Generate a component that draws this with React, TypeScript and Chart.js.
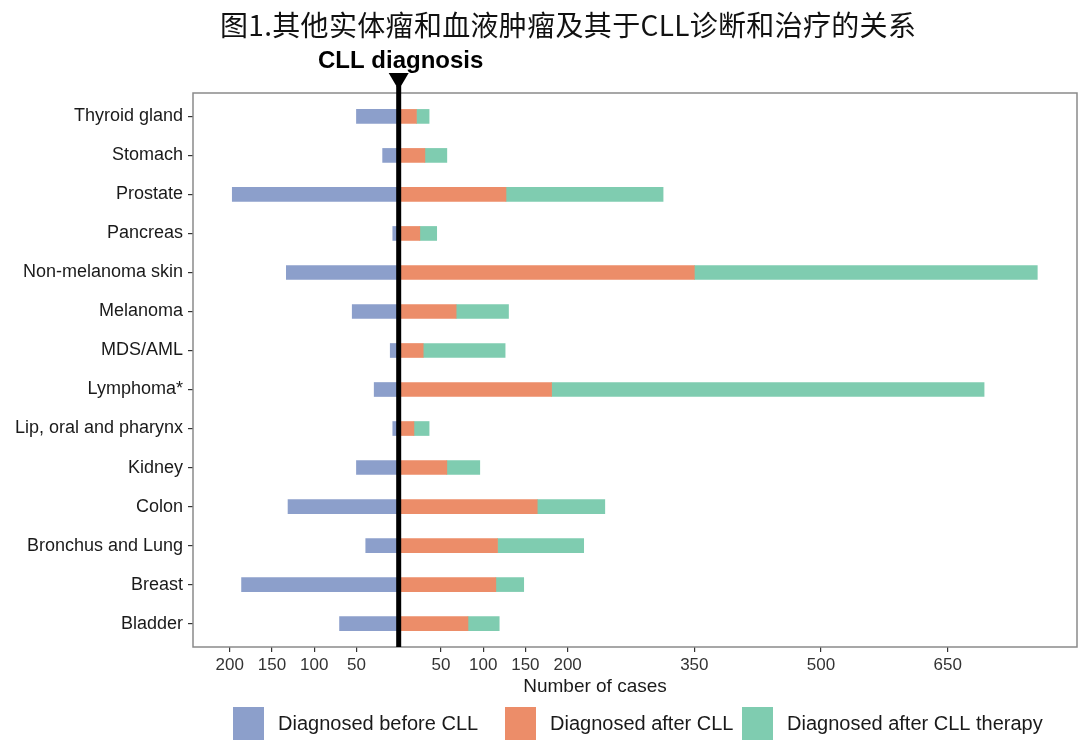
import React, { useEffect, useRef } from "react";
import { Chart, registerables } from "chart.js";

Chart.register(...registerables);

const categories = [
  "Thyroid gland",
  "Stomach",
  "Prostate",
  "Pancreas",
  "Non-melanoma skin",
  "Melanoma",
  "MDS/AML",
  "Lymphoma*",
  "Lip, oral and pharynx",
  "Kidney",
  "Colon",
  "Bronchus and Lung",
  "Breast",
  "Bladder",
];
const beforeCLL = [50, 19, 197, 7, 133, 55, 10, 29, 7, 50, 131, 39, 186, 70];
const afterCLL = [21, 31, 127, 25, 350, 68, 29, 181, 18, 57, 164, 117, 115, 82];
const afterTherapy = [15, 26, 186, 20, 406, 62, 97, 512, 18, 39, 80, 102, 33, 37];
const xTickValues = [-200, -150, -100, -50, 50, 100, 150, 200, 350, 500, 650];
const seriesNames = ["Diagnosed before CLL", "Diagnosed after CLL", "Diagnosed after CLL therapy"];
const seriesColors = ["#8C9FCB", "#EC8D69", "#7FCCB0"];
const titleText = "图1.其他实体瘤和血液肿瘤及其于CLL诊断和治疗的关系";
const markerText = "CLL diagnosis";
const xAxisTitle = "Number of cases";

const LATIN = '"Liberation Sans", Arial, Helvetica, sans-serif';

const decorPlugin = {
  id: "decor",
  beforeDraw(chart: any) {
    const { ctx, width, height } = chart;
    ctx.save();
    ctx.fillStyle = "#ffffff";
    ctx.fillRect(0, 0, width, height);
    ctx.restore();
  },
  afterDatasetsDraw(chart: any) {
    const { ctx, chartArea: a, scales } = chart;
    ctx.save();
    // panel border
    ctx.strokeStyle = "#8a8a8a";
    ctx.lineWidth = 1.5;
    ctx.strokeRect(a.left, a.top, a.right - a.left, a.bottom - a.top);
    // CLL diagnosis line
    const x0 = scales.x.getPixelForValue(0);
    ctx.fillStyle = "#000000";
    ctx.fillRect(x0 - 2.5, 86, 5, a.bottom - 86);
    ctx.beginPath();
    ctx.moveTo(x0 - 10, 73);
    ctx.lineTo(x0 + 10, 73);
    ctx.lineTo(x0, 90);
    ctx.closePath();
    ctx.fill();
    ctx.font = "bold 24px " + LATIN;
    ctx.textAlign = "center";
    ctx.textBaseline = "alphabetic";
    ctx.fillText(markerText, x0 + 2, 68);
    ctx.restore();
  },
  afterDraw(chart: any) {
    const { ctx } = chart;
    ctx.save();
    // title
    ctx.fillStyle = "#111111";
    ctx.font = '28px "Noto Sans CJK SC", sans-serif';
    ctx.textBaseline = "alphabetic";
    ctx.textAlign = "left";
    const targetW = 696;
    const w = ctx.measureText(titleText).width;
    const n = Array.from(titleText).length;
    const ls = (targetW - w) / (n - 1);
    if ("letterSpacing" in ctx) {
      (ctx as any).letterSpacing = ls.toFixed(2) + "px";
    }
    ctx.fillText(titleText, 568 - targetW / 2, 36);
    if ("letterSpacing" in ctx) {
      (ctx as any).letterSpacing = "0px";
    }
    // x axis title
    ctx.fillStyle = "#1a1a1a";
    ctx.font = "19px " + LATIN;
    ctx.textAlign = "center";
    ctx.fillText(xAxisTitle, 595, 692);
    // legend
    const squareX = [233, 505, 742];
    ctx.font = "20px " + LATIN;
    ctx.textAlign = "left";
    chart.data.datasets.forEach((ds: any, i: number) => {
      ctx.fillStyle = ds.backgroundColor;
      ctx.fillRect(squareX[i], 707, 31, 33);
      ctx.fillStyle = "#1a1a1a";
      ctx.fillText(ds.label, squareX[i] + 45, 730);
    });
    ctx.restore();
  },
};

export default function App() {
  const ref = useRef<HTMLCanvasElement>(null);

  useEffect(() => {
    const canvas = ref.current;
    if (!canvas) return;
    const series = [beforeCLL.map((v) => -v), afterCLL, afterTherapy];
    const chart = new Chart(canvas, {
      type: "bar",
      data: {
        datasets: series.map((vals, s) => ({
          label: seriesNames[s],
          data: vals.map((v, i) => ({ x: v, y: i })),
          backgroundColor: seriesColors[s],
          borderWidth: 0,
          barThickness: 14,
          stack: "all",
        })),
      },
      options: {
        indexAxis: "y",
        animation: false,
        responsive: false,
        devicePixelRatio: 1,
        layout: { padding: { top: 93, right: 3, left: 0, bottom: 0 } },
        plugins: {
          legend: { display: false },
          tooltip: { enabled: false },
          title: { display: false },
        },
        scales: {
          x: {
            type: "linear",
            stacked: true,
            offset: false,
            min: -243.5,
            max: 803,
            border: { display: false },
            grid: {
              display: true,
              offset: false,
              drawOnChartArea: false,
              drawTicks: true,
              tickLength: 5,
              color: "#333333",
              lineWidth: 1.2,
            },
            afterBuildTicks: (scale: any) => {
              scale.ticks = xTickValues.map((v) => ({ value: v }));
            },
            afterFit: (scale: any) => {
              scale.height = 93;
            },
            ticks: {
              autoSkip: false,
              maxRotation: 0,
              padding: 3,
              color: "#333333",
              font: { family: LATIN, size: 17 },
              callback: (v: any) => String(Math.abs(Number(v))),
            },
          },
          y: {
            type: "linear",
            reverse: true,
            offset: false,
            min: -0.6,
            max: 13.6,
            border: { display: false },
            grid: {
              display: true,
              offset: false,
              drawOnChartArea: false,
              drawTicks: true,
              tickLength: 5,
              color: "#333333",
              lineWidth: 1.2,
            },
            afterBuildTicks: (scale: any) => {
              scale.ticks = categories.map((_, i) => ({ value: i }));
            },
            afterFit: (scale: any) => {
              scale.width = 193;
            },
            ticks: {
              autoSkip: false,
              padding: 5,
              color: "#1a1a1a",
              font: { family: LATIN, size: 18 },
              callback: (v: any) => categories[Number(v)],
            },
          },
        },
      },
      plugins: [decorPlugin],
    } as any);
    return () => chart.destroy();
  }, []);

  return (
    <div style={{ position: "absolute", left: 0, top: 0, width: 1080, height: 740, background: "#fff" }}>
      <canvas ref={ref} width={1080} height={740} style={{ width: 1080, height: 740, display: "block" }} />
    </div>
  );
}
